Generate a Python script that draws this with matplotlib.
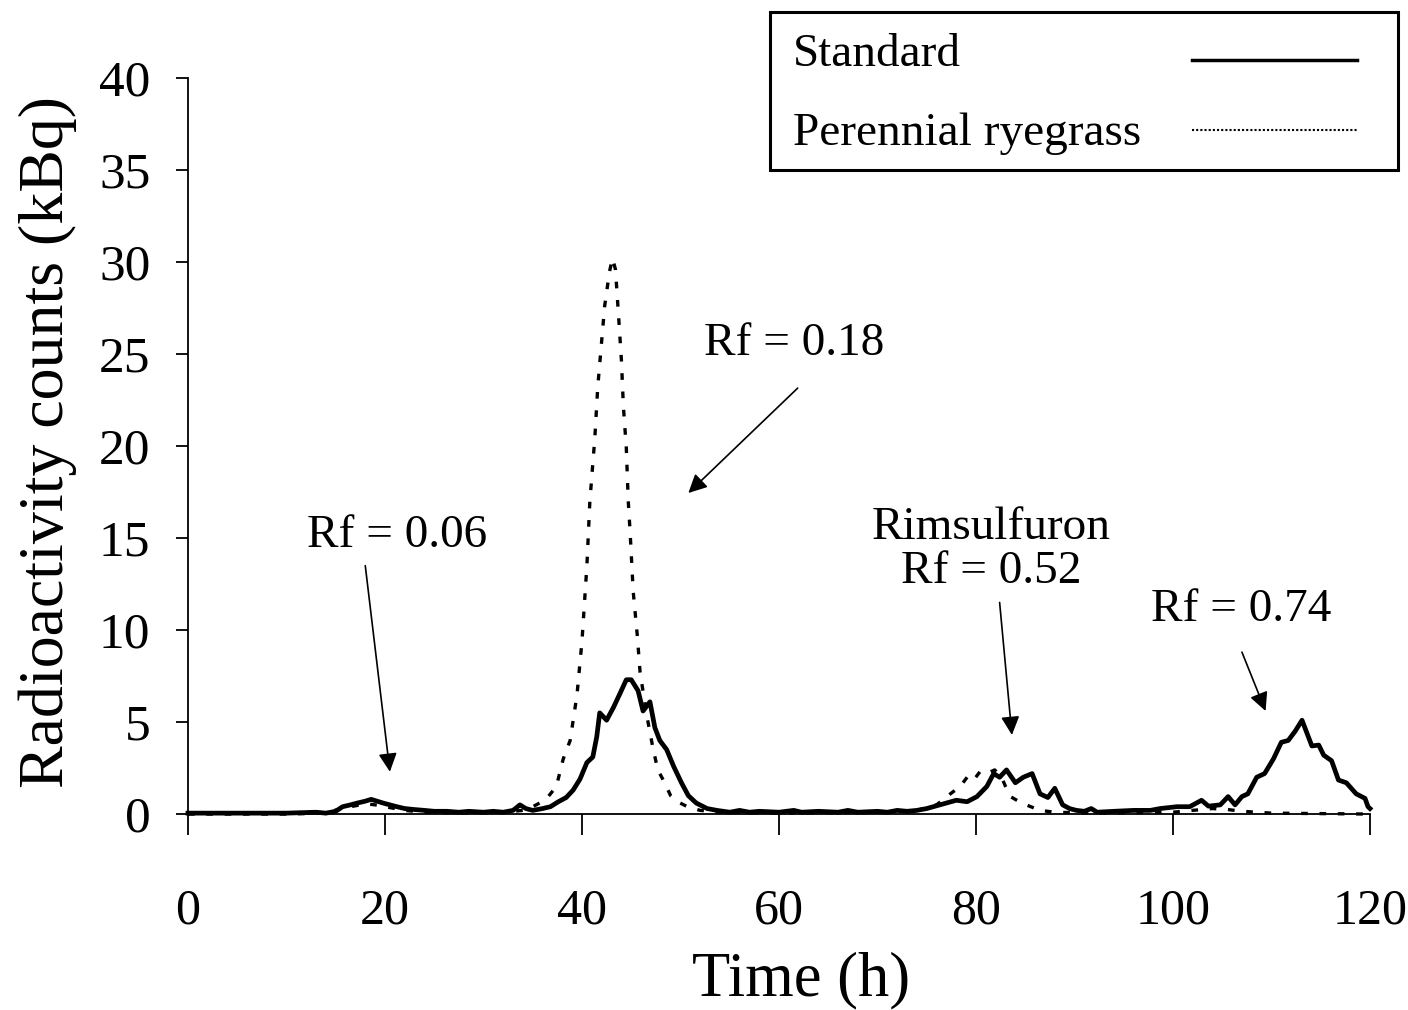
import numpy as np
import matplotlib
matplotlib.use("Agg")
import matplotlib.pyplot as plt
from matplotlib.lines import Line2D
from matplotlib.patches import Rectangle

plt.rcParams['font.family'] = ['Liberation Serif', 'DejaVu Serif']

# Standard (solid line), time in h, counts in kBq
time_std = [0, 5, 10, 13, 14, 15, 15.7, 16.5, 17.2, 18.0, 18.6, 19.2, 19.8, 20.5, 21.2, 22.0,
            22.9, 24, 25, 26.3, 27.5, 28.5, 30, 31, 32, 33, 33.7, 34.3, 35, 36, 36.8, 37.6,
            38.4, 39.1, 39.8, 40.5, 41.1, 41.5, 41.8, 42.5, 43.2, 43.9, 44.5, 45.0, 45.7, 46.2,
            46.9, 47.4, 47.9, 48.6, 49.3, 50.1, 50.8, 51.6, 52.7, 53.7, 55, 56, 57, 58, 60,
            61.5, 62.3, 64, 66, 67, 68, 70, 71, 72, 73, 74, 75, 76, 77, 78, 79.1, 80.1, 81.1,
            81.8, 82.4, 83.1, 84.0, 84.8, 85.7, 86.5, 87.3, 88.0, 88.8, 89.5, 90.2, 91, 91.7,
            92.3, 94, 96, 97.7, 98.7, 100.4, 101.7, 102.9, 103.6, 104.8, 105.6, 106.3, 107.0,
            107.6, 108.5, 109.3, 110.2, 111.0, 111.7, 112.4, 113.1, 113.6, 114.1, 114.8, 115.3,
            116.1, 116.8, 117.6, 118.6, 119.5, 119.8, 120]
counts_std = [0.05, 0.05, 0.05, 0.1, 0.05, 0.15, 0.4, 0.5, 0.6, 0.7, 0.8, 0.7, 0.6, 0.5, 0.4, 0.3,
              0.25, 0.2, 0.15, 0.15, 0.1, 0.15, 0.1, 0.15, 0.1, 0.2, 0.5, 0.3, 0.2, 0.3, 0.4, 0.67,
              0.9, 1.3, 1.9, 2.8, 3.1, 4.2, 5.5, 5.1, 5.8, 6.6, 7.3, 7.3, 6.7, 5.6,
              6.1, 4.7, 4.0, 3.5, 2.6, 1.7, 1.0, 0.6, 0.3, 0.2, 0.1, 0.2, 0.1, 0.15, 0.1,
              0.2, 0.1, 0.15, 0.1, 0.2, 0.1, 0.15, 0.1, 0.2, 0.15, 0.2, 0.3, 0.45, 0.6, 0.75, 0.67, 0.95, 1.5,
              2.2, 2.0, 2.4, 1.7, 2.0, 2.2, 1.1, 0.9, 1.4, 0.5, 0.3, 0.2, 0.15, 0.3,
              0.1, 0.15, 0.2, 0.2, 0.3, 0.4, 0.4, 0.75, 0.43, 0.5, 0.95, 0.5, 0.95,
              1.1, 2.0, 2.2, 3.0, 3.9, 4.0, 4.5, 5.1, 4.4, 3.7, 3.75, 3.2,
              2.9, 1.85, 1.7, 1.1, 0.85, 0.4, 0.3]

# Perennial ryegrass (dotted line)
time_rye = [0, 10, 14, 15.5, 16.5, 17.5, 18.2, 19, 20, 21, 22, 24, 28, 32, 34, 35, 35.7, 36.5,
            37.4, 38.1, 38.8, 39.5, 40.0, 40.5, 40.8, 41.3, 41.6, 42.3, 42.8, 43.1, 43.4, 43.7,
            44.0, 44.2, 44.5, 44.7, 44.9, 45.2, 45.6, 45.9, 46.6, 47.2, 47.7, 48.3, 49.0, 49.6,
            50.7, 52, 54, 60, 70, 74, 76, 77.4, 78.4, 79.1, 79.7, 80.4, 81.1, 81.9, 82.6, 83.0,
            83.5, 84.3, 85.1, 86.5, 88, 92, 100, 102, 104, 105.5, 107, 110, 120]
counts_rye = [0.0, 0.0, 0.05, 0.3, 0.4, 0.5, 0.55, 0.5, 0.4, 0.3, 0.2, 0.1, 0.05, 0.1, 0.2, 0.4, 0.6, 0.9,
              1.5, 3.0, 4.0, 6.5, 9.4, 13.5, 17.0, 20.4, 23.2, 27.6, 29.5, 30.2, 29.6, 27.2,
              24.7, 22.2, 19.9, 17.0, 15.2, 12.1, 9.8, 7.7, 5.3, 3.6, 2.4, 1.8, 1.0, 0.7,
              0.4, 0.2, 0.1, 0.05, 0.1, 0.2, 0.5, 1.1, 1.5, 2.0, 1.8, 2.3, 2.2, 2.4, 2.0, 1.5,
              0.95, 0.7, 0.5, 0.2, 0.1, 0.05, 0.1, 0.2, 0.3, 0.25, 0.15, 0.05, 0.0]

# annotations: label, text x, text baseline y, arrow tail, arrow head
notes = [("Rf = 0.06", 21.2, 14.5, (18.0, 13.5), (20.5, 2.3)),
         ("Rf = 0.18", 61.5, 24.95, (61.9, 23.15), (50.8, 17.45)),
         ("Rimsulfuron\nRf = 0.52", 81.5, 12.55, (82.4, 11.5), (83.65, 4.3)),
         ("Rf = 0.74", 106.9, 10.5, (107.0, 8.8), (109.4, 5.6))]

fig = plt.figure(figsize=(14.08, 10.10), dpi=100)
ax = fig.add_axes([0.1335, 0.194, 0.8395, 0.7287])

ax.plot(time_rye, counts_rye, color='black', lw=2.4, linestyle=(0, (2, 3.5)), clip_on=False)
ax.plot(time_std, counts_std, color='black', lw=3.4, clip_on=False)

ax.set_xlim(0, 120)
ax.set_ylim(0, 40)
ax.set_xticks(np.arange(0, 121, 20))
ax.set_yticks(np.arange(0, 41, 5))
for s in ['top', 'right']:
    ax.spines[s].set_visible(False)
for s in ['left', 'bottom']:
    ax.spines[s].set_linewidth(1.3)
ax.tick_params(axis='x', direction='out', length=15, width=1.3, pad=38, labelsize=36)
ax.tick_params(axis='y', direction='out', length=9, width=1.3, pad=18, labelsize=37)

ax.set_xlabel("Time (h)", fontsize=45, va='center')
ax.xaxis.set_label_coords(0.519, -0.2255)
ax.set_ylabel("Radioactivity counts (kBq)", fontsize=46, va='center')
ax.yaxis.set_label_coords(-0.119, 0.505)

for label, tx, ty, tail, head in notes:
    ax.text(tx, ty, label, fontsize=34, ha='center', va='baseline', multialignment='center',
            linespacing=1.05)
    ax.annotate('', xy=head, xytext=tail,
                arrowprops=dict(arrowstyle='-|>', color='black', lw=1.2,
                                mutation_scale=28, shrinkA=0, shrinkB=0))

# legend box drawn by hand: text on the left, line samples on the right
fig.patches.append(Rectangle((0.5469, 0.8317), 0.446, 0.1564, transform=fig.transFigure,
                             fill=False, edgecolor='black', lw=2.2))
fig.text(0.5632, 0.9347, "Standard", fontsize=34, va='baseline')
fig.text(0.5632, 0.8564, "Perennial ryegrass", fontsize=34, va='baseline')
fig.lines.append(Line2D([0.8466, 0.9638], [0.9406, 0.9406], transform=fig.transFigure,
                        color='black', lw=2.5))
fig.lines.append(Line2D([0.8466, 0.9638], [0.8713, 0.8713], transform=fig.transFigure,
                        color='black', lw=1.5, linestyle=(0, (1, 1))))

fig.savefig("out.png", dpi=100)
